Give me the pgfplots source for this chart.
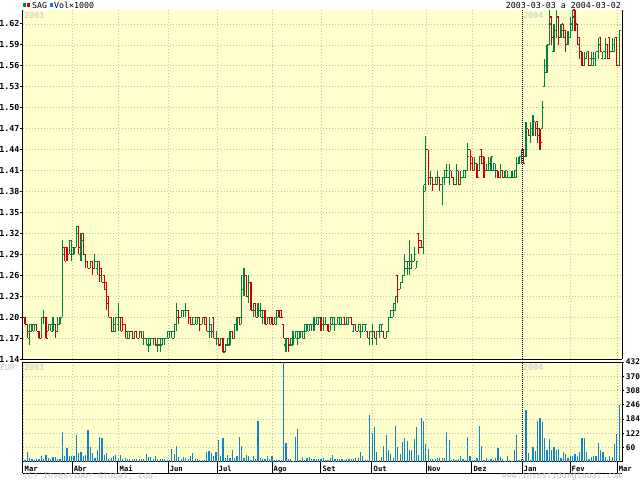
\documentclass[border=0pt]{standalone}
\usepackage{pgfplots}
\pgfplotsset{compat=1.18}
\usepackage{pgfplotstable}
\usepackage{fontspec}
\setmainfont{DejaVu Sans Mono}
\definecolor{bg}{HTML}{FFFFCC}
\definecolor{upc}{HTML}{008040}
\definecolor{dnc}{HTML}{CC0000}
\definecolor{volc}{HTML}{1482C8}
\definecolor{gridc}{HTML}{BEBEBE}
\definecolor{lbl}{HTML}{C4C4C4}
\pgfdeclareplotmark{otick}{\pgfpathmoveto{\pgfqpoint{-1.7pt}{0pt}}\pgfpathlineto{\pgfqpoint{0pt}{0pt}}\pgfusepathqstroke}
\pgfdeclareplotmark{ctick}{\pgfpathmoveto{\pgfqpoint{0pt}{0pt}}\pgfpathlineto{\pgfqpoint{1.7pt}{0pt}}\pgfusepathqstroke}
\pgfplotsset{
 upf/.style={restrict expr to domain={\thisrow{c}-\thisrow{o}}{-0.001:1}},
 dnf/.style={restrict expr to domain={\thisrow{c}-\thisrow{o}}{-1:-0.005}},
 hl/.style={draw=none, mark=none, forget plot, error bars/y dir=plus, error bars/y explicit, error bars/error mark=none, error bars/error bar style={draw=#1, line width=1.15pt, solid}},
 tk/.style 2 args={only marks, forget plot, mark=#1, color=#2, mark options={line width=1.1pt, solid}},
 gridsty/.style={grid style={gridc, line width=0.8pt, dash pattern=on 1pt off 2pt}},
}
\pgfplotstableread{
i o h l c
0 1.20 1.20 1.19 1.19
1 1.19 1.19 1.17 1.18
2 1.17 1.19 1.16 1.19
3 1.18 1.19 1.18 1.19
4 1.18 1.19 1.18 1.19
5 1.19 1.19 1.18 1.18
6 1.18 1.18 1.17 1.17
7 1.17 1.20 1.17 1.20
8 1.20 1.21 1.19 1.20
9 1.20 1.20 1.17 1.17
10 1.18 1.19 1.18 1.19
11 1.19 1.19 1.18 1.19
12 1.18 1.20 1.18 1.19
13 1.19 1.19 1.17 1.18
14 1.18 1.20 1.18 1.19
15 1.19 1.20 1.19 1.20
16 1.20 1.31 1.20 1.29
17 1.30 1.30 1.28 1.28
18 1.30 1.30 1.28 1.29
19 1.29 1.31 1.29 1.31
20 1.29 1.31 1.28 1.30
21 1.29 1.30 1.29 1.30
22 1.30 1.33 1.30 1.32
23 1.33 1.33 1.29 1.30
24 1.29 1.32 1.28 1.31
25 1.32 1.32 1.29 1.29
26 1.29 1.29 1.27 1.28
27 1.28 1.28 1.27 1.27
28 1.27 1.28 1.27 1.28
29 1.28 1.28 1.26 1.27
30 1.27 1.29 1.27 1.28
31 1.27 1.28 1.26 1.28
32 1.28 1.28 1.25 1.26
33 1.27 1.27 1.25 1.25
34 1.26 1.26 1.24 1.24
35 1.25 1.25 1.21 1.22
36 1.23 1.23 1.20 1.20
37 1.20 1.20 1.18 1.18
38 1.18 1.20 1.18 1.19
39 1.18 1.20 1.18 1.20
40 1.19 1.22 1.18 1.20
41 1.20 1.20 1.18 1.18
42 1.20 1.20 1.18 1.19
43 1.19 1.19 1.17 1.18
44 1.17 1.18 1.17 1.18
45 1.17 1.18 1.17 1.18
46 1.18 1.18 1.17 1.17
47 1.17 1.18 1.17 1.18
48 1.18 1.18 1.17 1.17
49 1.17 1.18 1.17 1.18
50 1.18 1.18 1.17 1.17
51 1.17 1.18 1.16 1.17
52 1.17 1.17 1.16 1.17
53 1.16 1.17 1.15 1.17
54 1.16 1.17 1.16 1.17
55 1.17 1.17 1.16 1.17
56 1.17 1.17 1.16 1.16
57 1.16 1.17 1.15 1.17
58 1.16 1.17 1.15 1.17
59 1.16 1.17 1.16 1.17
60 1.17 1.17 1.16 1.17
61 1.17 1.18 1.17 1.18
62 1.17 1.18 1.17 1.18
63 1.18 1.18 1.17 1.18
64 1.17 1.19 1.17 1.19
65 1.19 1.22 1.18 1.20
66 1.21 1.21 1.19 1.20
67 1.20 1.21 1.20 1.21
68 1.21 1.21 1.20 1.21
69 1.21 1.22 1.20 1.21
70 1.21 1.21 1.19 1.20
71 1.20 1.20 1.19 1.19
72 1.19 1.20 1.19 1.20
73 1.19 1.20 1.19 1.20
74 1.19 1.20 1.19 1.20
75 1.20 1.20 1.18 1.19
76 1.19 1.20 1.19 1.20
77 1.20 1.20 1.19 1.19
78 1.20 1.20 1.18 1.18
79 1.18 1.20 1.17 1.19
80 1.18 1.19 1.17 1.18
81 1.20 1.20 1.17 1.17
82 1.17 1.18 1.16 1.17
83 1.17 1.17 1.16 1.16
84 1.16 1.17 1.16 1.17
85 1.17 1.17 1.15 1.15
86 1.15 1.16 1.15 1.16
87 1.16 1.17 1.16 1.17
88 1.16 1.18 1.16 1.18
89 1.18 1.18 1.17 1.17
90 1.17 1.19 1.17 1.19
91 1.19 1.20 1.18 1.20
92 1.20 1.20 1.19 1.19
93 1.20 1.26 1.19 1.24
94 1.24 1.27 1.23 1.26
95 1.26 1.26 1.23 1.23
96 1.23 1.26 1.22 1.25
97 1.25 1.25 1.21 1.21
98 1.21 1.22 1.20 1.21
99 1.22 1.22 1.20 1.20
100 1.20 1.22 1.20 1.21
101 1.21 1.22 1.20 1.21
102 1.20 1.21 1.19 1.20
103 1.21 1.21 1.19 1.19
104 1.19 1.20 1.19 1.20
105 1.20 1.20 1.19 1.19
106 1.20 1.20 1.19 1.19
107 1.19 1.20 1.19 1.20
108 1.19 1.21 1.19 1.20
109 1.21 1.21 1.20 1.20
110 1.21 1.21 1.20 1.20
111 1.19 1.19 1.17 1.17
112 1.16 1.17 1.15 1.17
113 1.17 1.17 1.15 1.16
114 1.16 1.17 1.16 1.17
115 1.16 1.18 1.16 1.17
116 1.17 1.18 1.17 1.18
117 1.17 1.18 1.16 1.18
118 1.17 1.18 1.17 1.18
119 1.18 1.18 1.17 1.18
120 1.17 1.19 1.17 1.19
121 1.18 1.19 1.18 1.19
122 1.18 1.19 1.18 1.19
123 1.19 1.19 1.18 1.19
124 1.19 1.20 1.18 1.19
125 1.19 1.20 1.19 1.20
126 1.19 1.20 1.19 1.20
127 1.20 1.20 1.18 1.19
128 1.19 1.20 1.18 1.19
129 1.19 1.20 1.19 1.19
130 1.19 1.19 1.18 1.18
131 1.18 1.20 1.18 1.20
132 1.19 1.20 1.19 1.20
133 1.19 1.20 1.18 1.19
134 1.19 1.20 1.19 1.20
135 1.19 1.20 1.19 1.20
136 1.19 1.20 1.19 1.19
137 1.20 1.20 1.19 1.19
138 1.19 1.20 1.19 1.20
139 1.19 1.20 1.19 1.20
140 1.20 1.20 1.19 1.19
141 1.18 1.19 1.18 1.19
142 1.19 1.19 1.18 1.18
143 1.18 1.19 1.18 1.19
144 1.18 1.19 1.17 1.18
145 1.18 1.19 1.18 1.19
146 1.18 1.19 1.18 1.19
147 1.18 1.18 1.17 1.17
148 1.17 1.18 1.16 1.18
149 1.17 1.19 1.16 1.18
150 1.18 1.18 1.17 1.17
151 1.17 1.18 1.16 1.18
152 1.18 1.19 1.17 1.19
153 1.18 1.19 1.18 1.19
154 1.18 1.18 1.17 1.17
155 1.17 1.18 1.17 1.18
156 1.18 1.20 1.18 1.20
157 1.20 1.21 1.20 1.21
158 1.20 1.22 1.20 1.22
159 1.21 1.23 1.21 1.23
160 1.26 1.26 1.22 1.24
161 1.24 1.25 1.24 1.25
162 1.25 1.26 1.25 1.26
163 1.26 1.29 1.26 1.28
164 1.27 1.28 1.26 1.28
165 1.27 1.31 1.26 1.28
166 1.27 1.29 1.27 1.28
167 1.28 1.30 1.28 1.29
168 1.27 1.28 1.27 1.28
169 1.32 1.32 1.29 1.30
170 1.31 1.31 1.30 1.30
171 1.30 1.39 1.29 1.38
172 1.39 1.46 1.38 1.44
173 1.44 1.44 1.39 1.40
174 1.40 1.41 1.39 1.40
175 1.40 1.40 1.38 1.39
176 1.39 1.40 1.39 1.40
177 1.39 1.41 1.39 1.40
178 1.40 1.40 1.38 1.39
179 1.39 1.40 1.36 1.40
180 1.40 1.41 1.39 1.41
181 1.40 1.42 1.40 1.41
182 1.40 1.42 1.39 1.41
183 1.41 1.41 1.40 1.40
184 1.40 1.40 1.39 1.39
185 1.39 1.42 1.39 1.41
186 1.41 1.41 1.39 1.39
187 1.39 1.41 1.39 1.40
188 1.40 1.41 1.40 1.41
189 1.40 1.41 1.40 1.41
190 1.41 1.45 1.41 1.43
191 1.44 1.44 1.41 1.42
192 1.43 1.43 1.41 1.41
193 1.41 1.43 1.41 1.42
194 1.42 1.42 1.40 1.40
195 1.41 1.43 1.41 1.43
196 1.44 1.44 1.42 1.42
197 1.43 1.43 1.40 1.41
198 1.41 1.42 1.41 1.41
199 1.41 1.43 1.41 1.42
200 1.41 1.43 1.41 1.43
201 1.41 1.42 1.41 1.42
202 1.41 1.42 1.40 1.41
203 1.41 1.41 1.40 1.40
204 1.40 1.42 1.40 1.41
205 1.41 1.41 1.40 1.40
206 1.40 1.41 1.40 1.41
207 1.40 1.41 1.40 1.40
208 1.40 1.40 1.40 1.40
209 1.40 1.41 1.40 1.40
210 1.40 1.41 1.40 1.41
211 1.40 1.43 1.40 1.42
212 1.42 1.43 1.42 1.43
213 1.43 1.44 1.42 1.44
214 1.44 1.44 1.42 1.42
215 1.43 1.48 1.43 1.47
216 1.47 1.47 1.46 1.46
217 1.46 1.48 1.45 1.47
218 1.47 1.49 1.46 1.48
219 1.48 1.48 1.46 1.47
220 1.48 1.48 1.45 1.46
221 1.47 1.47 1.44 1.45
222 1.47 1.51 1.47 1.50
223 1.53 1.57 1.53 1.56
224 1.55 1.59 1.55 1.59
225 1.59 1.64 1.59 1.62
226 1.63 1.63 1.59 1.60
227 1.58 1.62 1.58 1.61
228 1.61 1.64 1.60 1.63
229 1.63 1.63 1.59 1.60
230 1.60 1.62 1.60 1.61
231 1.62 1.62 1.60 1.60
232 1.61 1.61 1.58 1.59
233 1.59 1.61 1.59 1.60
234 1.60 1.63 1.60 1.62
235 1.61 1.64 1.61 1.63
236 1.64 1.64 1.61 1.62
237 1.62 1.62 1.59 1.59
238 1.60 1.60 1.57 1.58
239 1.58 1.58 1.56 1.56
240 1.56 1.58 1.56 1.57
241 1.57 1.58 1.57 1.58
242 1.58 1.58 1.56 1.56
243 1.57 1.58 1.56 1.57
244 1.56 1.58 1.56 1.57
245 1.57 1.58 1.56 1.58
246 1.58 1.60 1.57 1.59
247 1.60 1.60 1.58 1.58
248 1.57 1.58 1.57 1.58
249 1.57 1.60 1.57 1.59
250 1.59 1.59 1.57 1.57
251 1.60 1.60 1.57 1.58
252 1.58 1.60 1.58 1.59
253 1.58 1.60 1.58 1.60
254 1.60 1.60 1.56 1.56
255 1.56 1.61 1.56 1.61
}\pricedata
\pgfplotstableread{
i v
0 5
1 43
2 17
3 9
4 8
5 12
6 13
7 26
8 12
9 29
10 17
11 13
12 19
13 20
14 12
15 12
16 126
17 23
18 58
19 23
20 26
21 23
22 117
23 35
24 43
25 23
26 29
27 135
28 61
29 38
30 17
31 52
32 108
33 103
34 29
35 38
36 12
37 16
38 23
39 30
40 13
41 30
42 13
43 16
44 13
45 10
46 9
47 12
48 10
49 9
50 13
51 9
52 33
53 19
54 19
55 12
56 23
57 9
58 9
59 9
60 9
61 5
62 5
63 54
64 33
65 69
66 20
67 12
68 20
69 16
70 12
71 23
72 35
73 12
74 9
75 5
76 5
77 5
78 43
79 46
80 35
81 23
82 43
83 93
84 22
85 103
86 17
87 30
88 16
89 52
90 16
91 25
92 107
93 69
94 14
95 29
96 23
97 6
98 23
99 13
100 178
101 17
102 12
103 9
104 25
105 9
106 23
107 6
108 6
109 6
110 6
111 431
112 81
113 13
114 9
115 3
116 108
117 139
118 6
119 19
120 7
121 14
122 19
123 12
124 13
125 13
126 9
127 13
128 16
129 7
130 6
131 16
132 30
133 12
134 9
135 10
136 10
137 6
138 9
139 9
140 12
141 12
142 16
143 17
144 43
145 25
146 6
147 6
148 204
149 124
150 150
151 43
152 6
153 20
154 69
155 117
156 49
157 32
158 14
159 155
160 64
161 33
162 84
163 100
164 87
165 49
166 52
167 98
168 148
169 29
170 187
171 174
172 78
173 55
174 12
175 9
176 12
177 14
178 14
179 17
180 17
181 126
182 93
183 6
184 9
185 6
186 9
187 22
188 9
189 6
190 108
191 26
192 6
193 6
194 16
195 156
196 67
197 6
198 14
199 6
200 9
201 6
202 17
203 58
204 19
205 12
206 3
207 26
208 6
209 3
210 48
211 117
212 6
213 12
214 6
215 223
216 35
217 6
218 65
219 45
220 178
221 191
222 171
223 100
224 52
225 98
226 49
227 65
228 52
229 56
230 16
231 42
232 33
233 14
234 25
235 23
236 33
237 25
238 40
239 103
240 103
241 40
242 12
243 19
244 26
245 26
246 81
247 48
248 40
249 19
250 6
251 22
252 19
253 78
254 119
255 245
}\voldata
\begin{document}
\begin{tikzpicture}
\useasboundingbox (0pt,0pt) rectangle (640pt,-480pt);
% price panel
\begin{axis}[
  at={(23pt,-10pt)}, anchor=north west, scale only axis,
  width=599pt, height=349pt,
  xmin=-0.86, xmax=256.2, ymin=1.14, ymax=1.64,
  axis background/.style={fill=bg},
  axis x line*=bottom, axis y line*=box,
  axis line style={line width=1pt, black},
  xtick={20.2,39.9,61.4,82.4,106,127,148.9,172.1,191.8,233.9,254.1},
  xticklabels={}, xtick style={draw=none},
  ytick={1.14,1.17,1.2,1.23,1.26,1.29,1.32,1.35,1.38,1.41,1.44,1.47,1.5,1.53,1.56,1.59,1.62},
  yticklabels={1.14,1.17,1.20,1.23,1.26,1.29,1.32,1.35,1.38,1.41,1.44,1.47,1.50,1.53,1.56,1.59,1.62},
  ytick pos=left, tick align=outside, major tick length=3pt,
  ytick style={black, line width=1pt},
  yticklabel style={font=\bfseries\fontsize{8.3}{9}\selectfont, inner sep=0pt, xshift=-0.5pt},
  grid=major, gridsty,
  clip=false,
]
\draw[black, line width=1pt, dash pattern=on 1pt off 1pt] (axis cs:213.3,1.14) -- (axis cs:213.3,1.64);
\addplot[upf, hl=upc] table[x=i, y=l, y error plus expr=\thisrow{h}-\thisrow{l}] {\pricedata};
\addplot[upf, tk={otick}{upc}] table[x=i, y=o] {\pricedata};
\addplot[upf, tk={ctick}{upc}] table[x=i, y=c] {\pricedata};
\addplot[dnf, hl=dnc] table[x=i, y=l, y error plus expr=\thisrow{h}-\thisrow{l}] {\pricedata};
\addplot[dnf, tk={otick}{dnc}] table[x=i, y=o] {\pricedata};
\addplot[dnf, tk={ctick}{dnc}] table[x=i, y=c] {\pricedata};
\end{axis}
% volume panel
\begin{axis}[
  at={(23pt,-362pt)}, anchor=north west, scale only axis,
  width=599pt, height=99.5pt,
  xmin=-0.86, xmax=256.2, ymin=0, ymax=432,
  axis background/.style={fill=bg},
  axis line style={line width=1pt, black},
  xtick={-0.86,20.2,39.9,61.4,82.4,106,127,148.9,172.1,191.8,213.3,233.9,254.1},
  xticklabels={Mar,Abr,Mai,Jun,Jul,Ago,Set,Out,Nov,Dez,Jan,Fev,Mar},
  xtick pos=bottom, tick align=outside,
  xtick style={black, line width=1pt, /pgfplots/major tick length=11pt},
  xticklabel style={font=\bfseries\fontsize{7.2}{8}\selectfont, anchor=north west, inner sep=0pt, xshift=1.5pt, yshift=0pt},
  ytick={60,122,184,246,308,370,432},
  ytick pos=right, yticklabel pos=right,
  ytick style={black, line width=1pt, /pgfplots/major tick length=2pt},
  yticklabel style={font=\bfseries\fontsize{7.8}{9}\selectfont, inner sep=0pt, xshift=-0.5pt},
  /pgf/number format/assume math mode=true,
  grid=major, gridsty,
  clip=false,
]
\draw[black, line width=1pt, dash pattern=on 1pt off 1pt] (axis cs:213.3,0) -- (axis cs:213.3,432);
\addplot[ycomb, volc, line width=1.2pt, mark=none, forget plot] table[x=i, y=v] {\voldata};
\draw[black, line width=1pt] ([yshift=-11.5pt]rel axis cs:0,0) -- ([yshift=-11.5pt]rel axis cs:1,0);
\end{axis}
% texts
\begin{scope}[font=\fontsize{8.3}{9}\selectfont]
\fill[upc] (23pt,-3pt) rectangle (26pt,-7pt);
\fill[dnc] (27pt,-3pt) rectangle (30pt,-7pt);
\node[anchor=base west, inner sep=0pt] at (32pt,-8.5pt) {SAG};
\fill[volc] (50pt,-3pt) rectangle (53pt,-7pt);
\node[anchor=base west, inner sep=0pt] at (54pt,-8.5pt) {Vol×1000};
\node[anchor=base east, inner sep=0pt] at (621pt,-8.5pt) {2003-03-03 a 2004-03-02};
\node[anchor=base west, inner sep=0pt, text=lbl] at (24pt,-18.5pt) {2003};
\node[anchor=base west, inner sep=0pt, text=lbl] at (523pt,-18.5pt) {2004};
\node[anchor=base west, inner sep=0pt, text=lbl] at (0pt,-370.5pt) {EUR};
\node[anchor=base west, inner sep=0pt, text=lbl] at (24pt,-370.5pt) {2003};
\node[anchor=base west, inner sep=0pt, text=lbl] at (523pt,-370.5pt) {2004};
\node[anchor=base west, inner sep=0pt, text=lbl] at (23pt,-478.5pt) {(C) Investidor Global, Lda.};
\node[anchor=base east, inner sep=0pt, text=lbl] at (622pt,-478.5pt) {www.investidorglobal.com};
\end{scope}
\end{tikzpicture}
\end{document}
